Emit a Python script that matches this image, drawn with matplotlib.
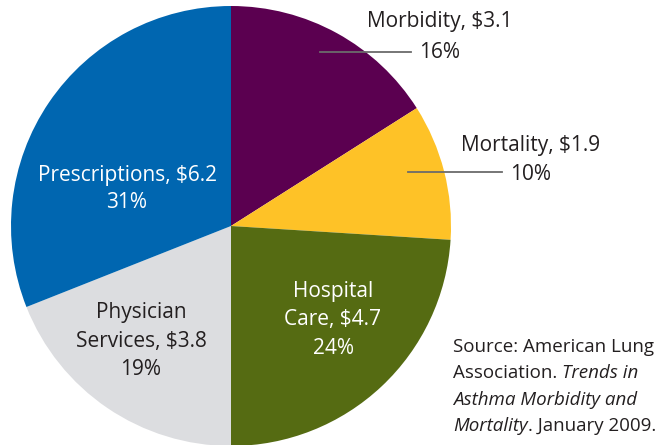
import matplotlib
matplotlib.use("Agg")
import matplotlib.pyplot as plt
from matplotlib.lines import Line2D

# Asthma cost breakdown (billions $), American Lung Association 2009
categories = ["Morbidity", "Mortality", "Hospital\nCare", "Physician\nServices", "Prescriptions"]
dollars = ["$3.1", "$1.9", "$4.7", "$3.8", "$6.2"]
shares = [16, 10, 24, 19, 31]
colors = ["#5b0050", "#fec227", "#556b12", "#dcdde0", "#0066b0"]

W, H = 672, 445
plt.rcParams["font.family"] = ["Open Sans", "DejaVu Sans"]

fig = plt.figure(figsize=(W / 100, H / 100), dpi=100)
fig.patch.set_facecolor("white")


def px(x, y):
    """pixel coords (origin top-left) -> figure fraction"""
    return x / W, 1 - y / H


# pie: center (231, 226), radius 220 px
ax = fig.add_axes([11 / W, (H - 446) / H, 440 / W, 440 / H])
ax.pie(shares, colors=colors, startangle=90, counterclock=False,
       radius=1.0, wedgeprops=dict(linewidth=0))
ax.set_xlim(-1, 1)
ax.set_ylim(-1, 1)
ax.axis("off")

dark = "#231f20"
fs = 15

# outside labels with leader lines
fig.text(*px(440, 22), "Morbidity, $3.1", ha="center", va="center", fontsize=fs, color=dark)
fig.text(*px(440, 52), "16%", ha="center", va="center", fontsize=fs, color=dark)
fig.text(*px(531, 145), "Mortality, $1.9", ha="center", va="center", fontsize=fs, color=dark)
fig.text(*px(531, 174), "10%", ha="center", va="center", fontsize=fs, color=dark)
for (x0, x1, y) in [(320, 411, 52), (408, 502, 172)]:
    fig.add_artist(Line2D([x0 / W, x1 / W], [1 - y / H, 1 - y / H],
                          color="#6b6b6b", linewidth=1.3, transform=fig.transFigure))

# inside labels
fig.text(*px(127, 189), "Prescriptions, $6.2\n31%", ha="center", va="center",
         fontsize=fs, color="white", linespacing=1.4)
fig.text(*px(141, 341), "Physician\nServices, $3.8\n19%", ha="center", va="center",
         fontsize=fs, color=dark, linespacing=1.45)
fig.text(*px(333, 320), "Hospital\nCare, $4.7\n24%", ha="center", va="center",
         fontsize=fs, color="white", linespacing=1.45)

# source note, mixed upright / italic
sfs = 13.5
t1 = fig.text(*px(453, 347), "Source: American Lung", ha="left", va="center", fontsize=sfs, color=dark)
t2 = fig.text(*px(453, 373), "Association. ", ha="left", va="center", fontsize=sfs, color=dark)
ax.annotate("Trends in", xy=(1, 0), xycoords=t2, ha="left", va="bottom",
            fontsize=sfs, color=dark, style="italic", annotation_clip=False)
fig.text(*px(453, 400), "Asthma Morbidity and", ha="left", va="center", fontsize=sfs,
         color=dark, style="italic")
t4 = fig.text(*px(453, 426), "Mortality", ha="left", va="center", fontsize=sfs,
              color=dark, style="italic")
ax.annotate(". January 2009.", xy=(1, 0), xycoords=t4, ha="left", va="bottom",
            fontsize=sfs, color=dark, annotation_clip=False)

fig.savefig("out.png", dpi=100)
